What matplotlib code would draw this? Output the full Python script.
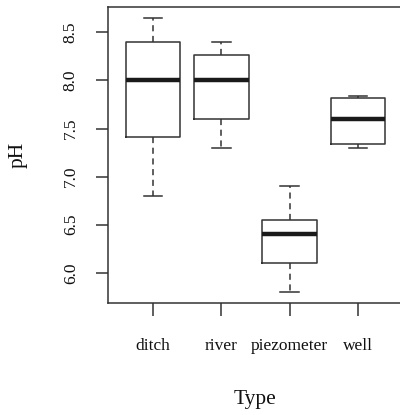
import matplotlib.pyplot as plt

TYPES = ["ditch", "river", "piezometer", "well"]
WHISLO = [6.8, 7.3, 5.8, 7.3]
Q1 = [7.41, 7.6, 6.1, 7.34]
MED = [8.0, 8.0, 6.4, 7.6]
Q3 = [8.4, 8.26, 6.55, 7.82]
WHISHI = [8.65, 8.4, 6.9, 7.84]
YTICKS = [6.0, 6.5, 7.0, 7.5, 8.0, 8.5]

plt.rcParams['font.family'] = ['Liberation Serif', 'DejaVu Serif']
LINE = "#333333"

fig = plt.figure(figsize=(4, 4.15), dpi=100)
ax = fig.add_axes([0.27, 0.2699, 0.7375, 0.7133])

stats = []
for i, name in enumerate(TYPES):
    stats.append({"label": name, "whislo": WHISLO[i], "q1": Q1[i], "med": MED[i],
                  "q3": Q3[i], "whishi": WHISHI[i], "fliers": []})

ax.bxp(stats, positions=range(1, len(TYPES) + 1), widths=0.8, capwidths=0.27,
       showfliers=False,
       boxprops=dict(color=LINE, linewidth=1.1),
       whiskerprops=dict(color=LINE, linewidth=1.1, linestyle=(0, (4, 3))),
       capprops=dict(color=LINE, linewidth=1.1),
       medianprops=dict(color="#1a1a1a", linewidth=3.2))

ax.set_xlim(0.34, 4.66)
ax.set_ylim(5.686, 8.764)
ax.set_yticks(YTICKS)
ax.set_yticklabels([f"{v:.1f}" for v in YTICKS], rotation=90, va="center")
ax.set_xticks(range(1, len(TYPES) + 1))
ax.set_xticklabels(TYPES)

for s in ax.spines.values():
    s.set_color(LINE)
    s.set_linewidth(1.1)
ax.tick_params(axis="both", colors=LINE, width=1.1, length=9, labelsize=12.5,
               labelcolor="#111111")
ax.tick_params(axis="x", pad=16)
ax.tick_params(axis="y", pad=12)

ax.set_xlabel("Type", fontsize=15.5, color="#111111", labelpad=26)
ax.set_ylabel("pH", fontsize=15.5, color="#111111", labelpad=25)

fig.savefig("out.png", dpi=100)
